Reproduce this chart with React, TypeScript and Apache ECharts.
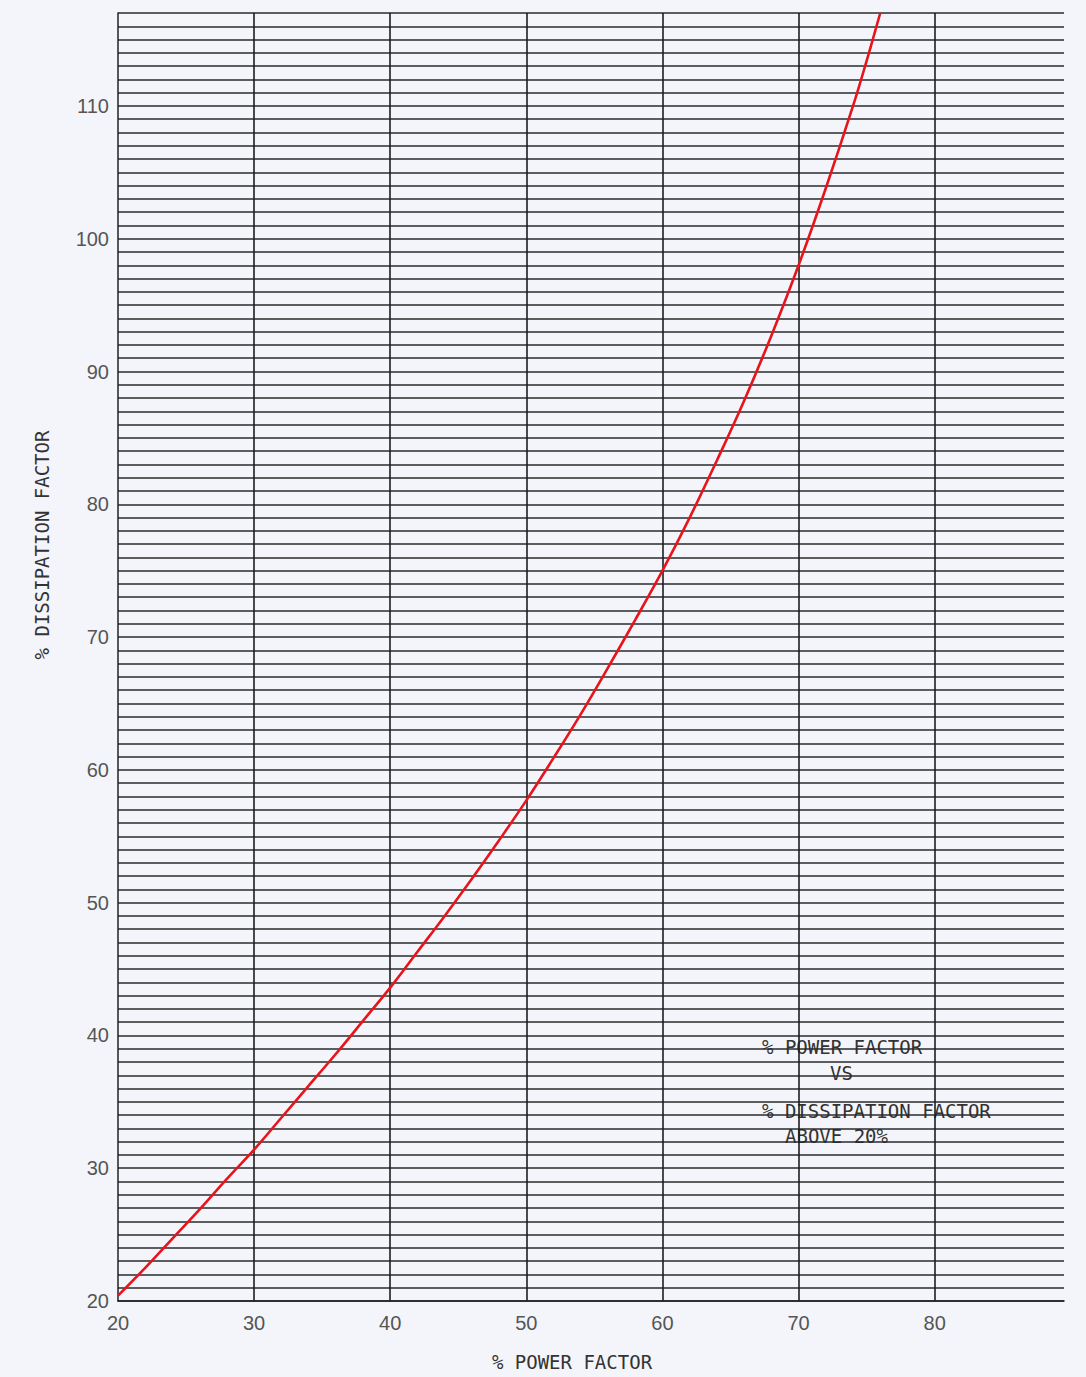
import React, { useEffect, useRef } from "react";
import * as echarts from "echarts";

// % power factor (x)
const powerFactor = [20, 22, 24, 26, 28, 30, 32, 34, 36, 38, 40, 42, 44, 46, 48, 50, 52, 54, 56, 58, 60, 62, 64, 66, 68, 70, 72, 74, 75, 76];
// % dissipation factor (y)
const dissipation = [20.4, 22.5, 24.7, 26.9, 29.2, 31.4, 33.8, 36.2, 38.6, 41.1, 43.6, 46.3, 49.0, 51.8, 54.7, 57.7, 60.9, 64.2, 67.7, 71.3, 75.0, 79.0, 83.3, 87.8, 92.7, 98.0, 103.8, 110.0, 113.4, 117.0];

const xTitle = "% POWER FACTOR";
const yTitle = "% DISSIPATION FACTOR";
const noteLines = ["% POWER FACTOR", "VS", "% DISSIPATION FACTOR", "ABOVE 20%"];

const X_MIN = 20;
const X_MAX = 89.5;
const Y_MIN = 20;
const Y_MAX = 117;

export default function App() {
  const ref = useRef<HTMLDivElement>(null);
  useEffect(() => {
    if (!ref.current) return;
    const chart = echarts.init(ref.current, undefined, { renderer: "svg" });
    const mono = "'DejaVu Sans Mono', 'Liberation Mono', monospace";
    const sans = "'Liberation Sans', Arial, sans-serif";
    const noteStyle = { fontFamily: mono, fontSize: 19, fill: "#333" };
    chart.setOption({
      animation: false,
      backgroundColor: "#f4f5fa",
      grid: { left: 118, right: 22, top: 13, bottom: 76 },
      xAxis: {
        type: "value",
        min: X_MIN,
        max: X_MAX,
        interval: 10,
        axisLine: { show: true, lineStyle: { color: "#222", width: 1.6 } },
        axisTick: { show: false },
        axisLabel: {
          margin: 12,
          fontFamily: sans,
          fontSize: 20,
          color: "#555",
          formatter: (v: number) => (v % 10 === 0 ? String(v) : ""),
        },
        splitLine: { show: true, showMinLine: false, showMaxLine: false, lineStyle: { color: "#1e1e1e", width: 1.6 } },
      },
      yAxis: {
        type: "value",
        min: Y_MIN,
        max: Y_MAX,
        interval: 1,
        axisLine: { show: true, lineStyle: { color: "#222", width: 1.5 } },
        axisTick: { show: false },
        axisLabel: {
          margin: 9,
          fontFamily: sans,
          fontSize: 20,
          color: "#555",
          formatter: (v: number) => (v % 10 === 0 ? String(v) : ""),
        },
        splitLine: { show: true, lineStyle: { color: "#2a2a2a", width: 1.5 } },
      },
      series: [
        {
          type: "line",
          data: powerFactor.map((x, i) => [x, dissipation[i]]),
          smooth: 0.4,
          showSymbol: false,
          lineStyle: { color: "#e8141c", width: 2.6 },
          clip: true,
        },
      ],
      graphic: [
        {
          type: "text",
          x: 42,
          y: 545,
          rotation: Math.PI / 2,
          style: { text: yTitle, fontFamily: mono, fontSize: 19, fill: "#333", align: "center", verticalAlign: "middle" },
        },
        {
          type: "text",
          x: 572,
          y: 1362,
          style: { text: xTitle, fontFamily: mono, fontSize: 19, fill: "#333", align: "center", verticalAlign: "middle" },
        },
        { type: "text", x: 762, y: 1047, style: { ...noteStyle, text: noteLines[0], verticalAlign: "middle" } },
        { type: "text", x: 830, y: 1073, style: { ...noteStyle, text: noteLines[1], verticalAlign: "middle" } },
        { type: "text", x: 762, y: 1111, style: { ...noteStyle, text: noteLines[2], verticalAlign: "middle" } },
        { type: "text", x: 785, y: 1136, style: { ...noteStyle, text: noteLines[3], verticalAlign: "middle" } },
      ],
    });
    return () => chart.dispose();
  }, []);
  return (
    <div style={{ position: "fixed", left: 0, top: 0, width: 1086, height: 1377, background: "#f4f5fa" }}>
      <div ref={ref} style={{ width: 1086, height: 1377 }} />
    </div>
  );
}
